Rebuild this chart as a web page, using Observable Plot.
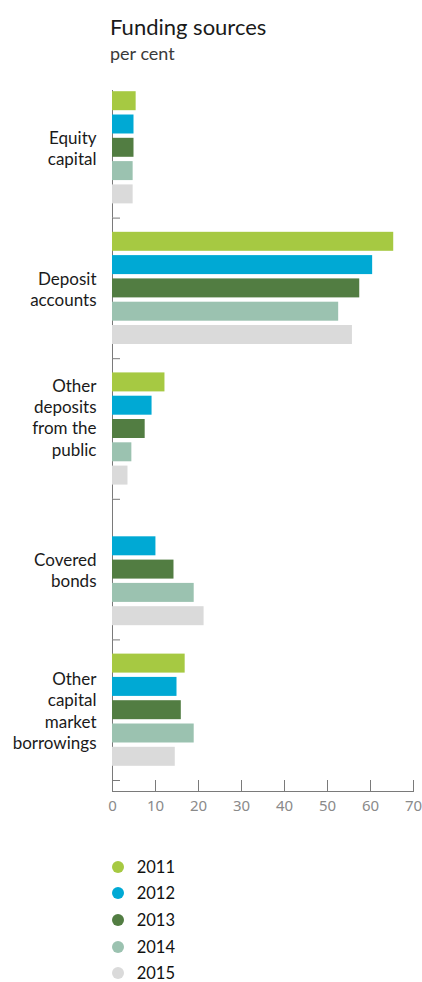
<!DOCTYPE html>
<html><head><meta charset="utf-8">
<script src="https://cdn.jsdelivr.net/npm/d3@7"></script>
<script src="https://cdn.jsdelivr.net/npm/@observablehq/plot@0.6"></script>
<style>
body{margin:0;background:#fff;font-family:Lato,"Noto Sans",sans-serif;}
#wrap{position:relative;width:422px;height:982px;overflow:hidden;}
#title{position:absolute;left:110px;top:14px;font-size:22px;line-height:26px;color:#1a1a1a;white-space:nowrap;}
#subtitle{position:absolute;left:110px;top:42px;font-size:18px;line-height:22px;color:#3a3a3a;white-space:nowrap;}
#chart{position:absolute;left:0;top:70px;width:422px;}
#chart svg{max-width:none;}
#legend{position:absolute;left:111.7px;top:853.3px;}
.row{display:flex;align-items:center;height:26.7px;}
.dot{width:12px;height:12px;border-radius:50%;margin-right:13px;flex:none;}
.lab{font-size:16.5px;color:#111;line-height:20px;}
</style></head><body>
<div id="wrap">
  <div id="title">Funding sources</div>
  <div id="subtitle">per cent</div>
  <div id="chart"></div>
  <div id="legend"></div>
</div>
<script>
const categories = ["Equity capital","Deposit accounts","Other deposits from the public","Covered bonds","Other capital market borrowings"];
const categoryLabels = ["Equity\ncapital","Deposit\naccounts","Other\ndeposits\nfrom the\npublic","Covered\nbonds","Other\ncapital\nmarket\nborrowings"];
const years = ["2011","2012","2013","2014","2015"];
const v2011 = [5.5, 65.4, 12.2, null, 16.9];
const v2012 = [5.0, 60.5, 9.2, 10.1, 15.0];
const v2013 = [5.0, 57.5, 7.6, 14.3, 16.0];
const v2014 = [4.8, 52.6, 4.5, 19.0, 19.0];
const v2015 = [4.8, 55.8, 3.6, 21.3, 14.6];
const colors = ["#a6c942","#00a9d4","#527d42","#9bc2b0","#dadada"];
const xTicks = [0,10,20,30,40,50,60,70];

const series = [v2011, v2012, v2013, v2014, v2015];
const data = [];
categories.forEach((c, i) => years.forEach((y, j) => {
  const v = series[j][i];
  if (v != null) data.push({category: c, year: y, value: v});
}));
const labelOf = new Map(categories.map((c, i) => [c, categoryLabels[i]]));

const W = 422, H = 750, mT = 7, mB = 40, mL = 112, mR = 9;
const facetH = (H - mT - mB) / categories.length;
const axisColor = "#7a7a7a";
const first = categories[0], last = categories[categories.length - 1];
const labelFont = {frameAnchor: "left", dx: -16, textAnchor: "end", lineHeight: 1.25, fontSize: 17, fill: "#1a1a1a"};

const chart = Plot.plot({
  width: W, height: H,
  marginTop: mT, marginBottom: mB, marginLeft: mL, marginRight: mR,
  style: {fontFamily: "Lato, 'Noto Sans', sans-serif", background: "#fff", overflow: "visible"},
  x: {domain: [0, 70], axis: null},
  y: {domain: years, axis: null, paddingInner: 0.185, paddingOuter: 0.61, round: false},
  fy: {domain: categories, axis: null, padding: 0, round: false},
  color: {domain: years, range: colors},
  marks: [
    Plot.ruleX([first], {x: () => 0, fy: d => d, insetTop: 13, stroke: axisColor}),
    Plot.ruleX(categories.slice(1, -1), {x: () => 0, fy: d => d, stroke: axisColor}),
    Plot.ruleX([last], {x: () => 0, fy: d => d, insetBottom: -11, stroke: axisColor}),
    Plot.frame({anchor: "bottom", insetRight: (W - mL - mR) - 7, stroke: axisColor}),
    Plot.barX(data, {x: "value", y: "year", fy: "category", fill: "year"}),
    Plot.text(categories, {fy: d => d, text: d => labelOf.get(d), filter: d => d !== categories[2], ...labelFont}),
    Plot.text(categories, {fy: d => d, text: d => labelOf.get(d), filter: d => d === categories[2], dy: -12, ...labelFont}),
    Plot.frame({anchor: "bottom", facetAnchor: "bottom", dy: 11, stroke: axisColor}),
    Plot.tickX(xTicks, {x: d => d, facetAnchor: "bottom", insetTop: facetH, insetBottom: -11, stroke: axisColor}),
    Plot.text(xTicks, {x: d => d, text: d => String(d), frameAnchor: "bottom", dy: 30, facetAnchor: "bottom",
      fontSize: 15, fill: "#8a8a8a", fontFamily: "'Noto Sans', 'Open Sans', sans-serif", ariaLabel: "x-tick-labels"})
  ]
});
chart.querySelectorAll('g[aria-label="x-tick-labels"]').forEach(g => {
  g.style.fontVariantNumeric = "oldstyle-nums";
  g.style.fontFeatureSettings = '"onum" 1';
});
document.getElementById("chart").appendChild(chart);

const legend = document.getElementById("legend");
years.forEach((y, i) => {
  const row = document.createElement("div");
  row.className = "row";
  const dot = document.createElement("span");
  dot.className = "dot";
  dot.style.background = colors[i];
  const lab = document.createElement("span");
  lab.className = "lab";
  lab.textContent = y;
  row.appendChild(dot); row.appendChild(lab);
  legend.appendChild(row);
});
</script>
</body></html>
